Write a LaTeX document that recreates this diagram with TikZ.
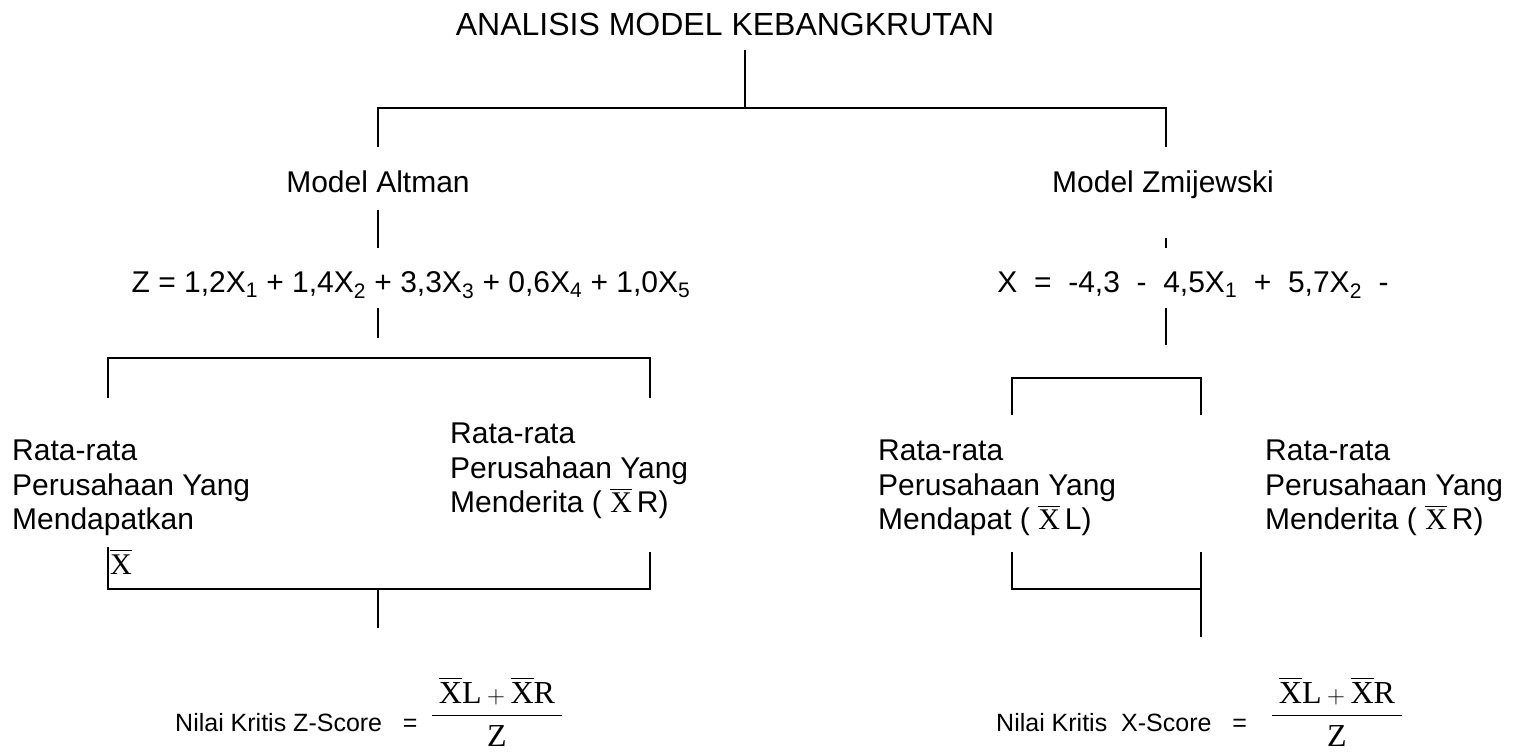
\documentclass[tikz,border=0pt]{standalone}
\usepackage{amsmath}
\usepackage{fontspec}
\setmainfont{Liberation Sans}
\newfontfamily\serif{Liberation Serif}
\usetikzlibrary{positioning}

\newcommand{\xbar}{$\overline{\mbox{\serif X}}$}

\begin{document}
\begin{tikzpicture}[
  x=1pt, y=-1pt,
  lbl/.style={inner sep=0pt,anchor=base,font=\fontsize{30}{34.5}\selectfont},
  grp/.style={lbl,align=left,anchor=north west},
  small lbl/.style={inner sep=0pt,anchor=base west,font=\fontsize{25}{29}\selectfont},
  frac part/.style={inner sep=0pt,anchor=base,font=\fontsize{32}{36}\selectfont\serif},
  link/.style={line width=1.4pt}
]
\useasboundingbox (0,0) rectangle (1527,752);

% titles and models
\node[lbl,font=\fontsize{32}{36}\selectfont] (title) at (725,36) {ANALISIS MODEL KEBANGKRUTAN};
\node[lbl] (altman) at (378,192) {Model Altman};
\node[lbl] (zmij) at (1163,192) {Model Zmijewski};
\node[lbl] (zform) at (411,292) {Z = 1,2X\textsubscript{1} + 1,4X\textsubscript{2} + 3,3X\textsubscript{3} + 0,6X\textsubscript{4} + 1,0X\textsubscript{5}};
\node[lbl] (xform) at (1193,292) {X \ = \ -4,3 \ - \ 4,5X\textsubscript{1} \ + \ 5,7X\textsubscript{2} \ -};

% groups
\node[grp] (mendapatkan) at (12,440) {Rata-rata\\Perusahaan Yang\\Mendapatkan};
\node[lbl,anchor=base west] (xbarL) at (110,574) {\xbar};
\node[grp] (menderitaL) at (450,423) {Rata-rata\\Perusahaan Yang\\Menderita ( \xbar\,R)};
\node[grp] (mendapat) at (878,440) {Rata-rata\\Perusahaan Yang\\Mendapat ( \xbar\,L)};
\node[grp] (menderitaR) at (1265,440) {Rata-rata\\Perusahaan Yang\\Menderita ( \xbar\,R)};

% critical values
\node[small lbl] (zlab) at (175,731) {Nilai Kritis Z-Score \ \ =};
\node[frac part] (znum) at (497,703) {$\overline{\mbox{X}}\mbox{L}+\overline{\mbox{X}}\mbox{R}$};
\node[frac part] (zden) at (497,746) {Z};
\node[small lbl] (xlab) at (996,731) {Nilai Kritis \ X-Score \ \ =};
\node[frac part] (xnum) at (1337,703) {$\overline{\mbox{X}}\mbox{L}+\overline{\mbox{X}}\mbox{R}$};
\node[frac part] (xden) at (1337,746) {Z};

% junctions
\coordinate (jTop) at (745,108);
\coordinate (jAlt) at (378,147);
\coordinate (jZmi) at (1166,147);
\coordinate (jAltB) at (378,358);
\coordinate (jZmiB) at (1166,378);
\coordinate (jAltC) at (378,589);
\coordinate (jZmiC) at (1201,589);

% connectors
\draw[link] (745,50) -- (jTop);
\draw[link] (jAlt) |- (jTop) -| (jZmi);
\draw[link] (378,210) -- (378,248);
\draw[link] (1166,238) -- (1166,248);
\draw[link] (378,308) -- (378,338);
\draw[link] (1166,308) -- (1166,345);
\draw[link] (108,398) |- (jAltB) -| (650,398);
\draw[link] (1012,415) |- (jZmiB) -| (1201,415);
\draw[link] (108,547) |- (jAltC) -| (650,552);
\draw[link] (jAltC) -- (378,628);
\draw[link] (1012,552) |- (jZmiC) -| (1201,552);
\draw[link] (jZmiC) -- (1201,637);
\draw[link] ([xshift=-7pt,yshift=-11pt]znum.south west) -- ([xshift=7pt,yshift=-11pt]znum.south east);
\draw[link] ([xshift=-7pt,yshift=-11pt]xnum.south west) -- ([xshift=7pt,yshift=-11pt]xnum.south east);
\end{tikzpicture}
\end{document}
